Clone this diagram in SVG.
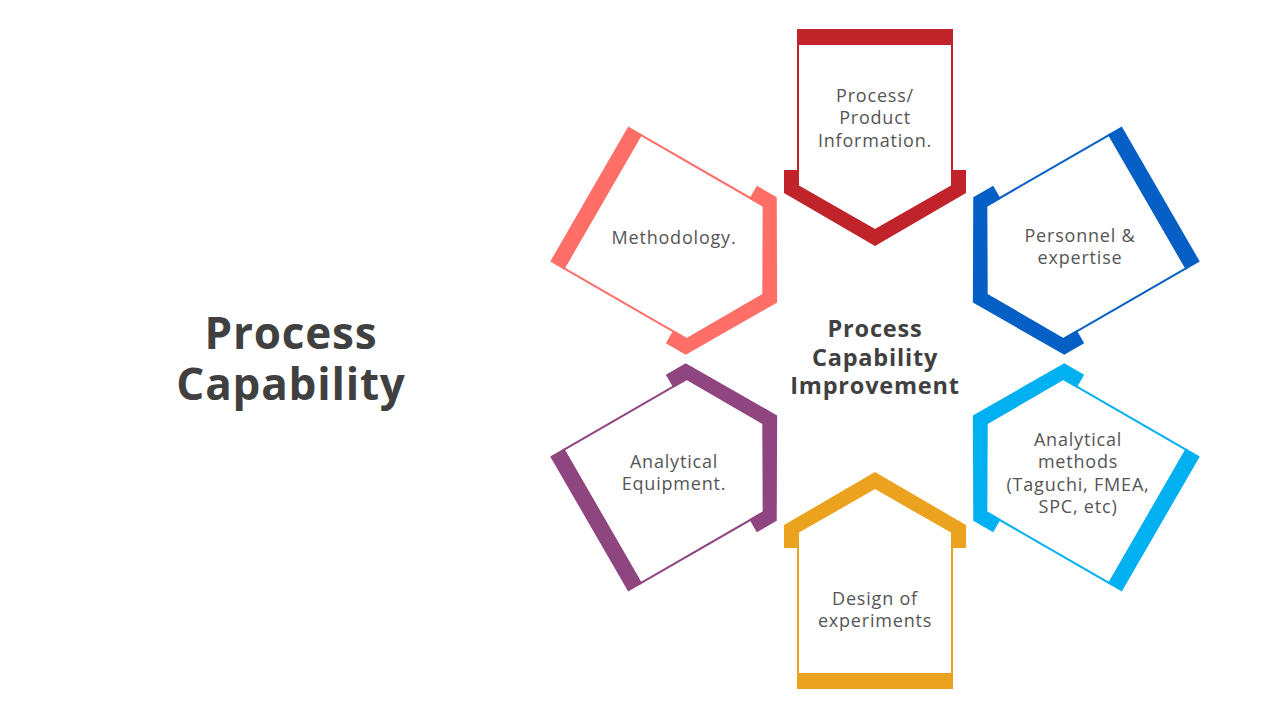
<svg xmlns="http://www.w3.org/2000/svg" xmlns:xlink="http://www.w3.org/1999/xlink" width="1280" height="720" viewBox="0 0 1280 720">
<style>
.lbl{font-family:"Open Sans","Liberation Sans",sans-serif;font-size:18px;letter-spacing:0.8px;fill:#555555;text-anchor:middle}
.ctr{font-family:"Open Sans","Liberation Sans",sans-serif;font-weight:bold;font-size:23.5px;letter-spacing:0.8px;fill:#404040;text-anchor:middle}
.ttl{font-family:"Open Sans","Liberation Sans",sans-serif;font-weight:bold;font-size:44px;letter-spacing:0.8px;fill:#404040;text-anchor:middle}
</style>
<defs>
<g id="shape">
<polygon points="-77,-315 77,-315 77,-173 0,-129 -77,-173" fill="#ffffff" stroke="currentColor" stroke-width="2"/>
<rect x="-78" y="-330" width="156" height="16" fill="currentColor"/>
<polygon points="-91,-189 -76,-189 -76,-173 0,-129 76,-173 76,-189 91,-189 91,-166 0,-113 -91,-166" fill="currentColor"/>
</g>
</defs>
<rect width="1280" height="720" fill="#ffffff"/>
<g id="title">
<text class="ttl" x="291" y="349">Process</text>
<text class="ttl" x="291" y="400">Capability</text>
</g>
<g id="connectors"></g>
<g id="node-process-info" color="#C0232A">
<use xlink:href="#shape" transform="translate(875,359)"/>
<text class="lbl" x="875" y="102">Process/</text>
<text class="lbl" x="875" y="124">Product</text>
<text class="lbl" x="875" y="147">Information.</text>
</g>
<g id="node-personnel" color="#055FC5">
<use xlink:href="#shape" transform="translate(875,359) rotate(60)"/>
<text class="lbl" x="1080" y="242">Personnel &amp;</text>
<text class="lbl" x="1080" y="264">expertise</text>
</g>
<g id="node-analytical-methods" color="#00B0F0">
<use xlink:href="#shape" transform="translate(875,359) rotate(120)"/>
<text class="lbl" x="1078" y="446">Analytical</text>
<text class="lbl" x="1078" y="468">methods</text>
<text class="lbl" x="1078" y="491">(Taguchi, FMEA,</text>
<text class="lbl" x="1078" y="513">SPC, etc)</text>
</g>
<g id="node-doe" color="#EBA31F">
<use xlink:href="#shape" transform="translate(875,359) rotate(180)"/>
<text class="lbl" x="875" y="605">Design of</text>
<text class="lbl" x="875" y="627">experiments</text>
</g>
<g id="node-equipment" color="#8F4580">
<use xlink:href="#shape" transform="translate(875,359) rotate(240)"/>
<text class="lbl" x="674" y="468">Analytical</text>
<text class="lbl" x="674" y="490">Equipment.</text>
</g>
<g id="node-methodology" color="#FF6E67">
<use xlink:href="#shape" transform="translate(875,359) rotate(300)"/>
<text class="lbl" x="674" y="244">Methodology.</text>
</g>
<g id="center">
<text class="ctr" x="875" y="337">Process</text>
<text class="ctr" x="875" y="366">Capability</text>
<text class="ctr" x="875" y="394">Improvement</text>
</g>
</svg>
